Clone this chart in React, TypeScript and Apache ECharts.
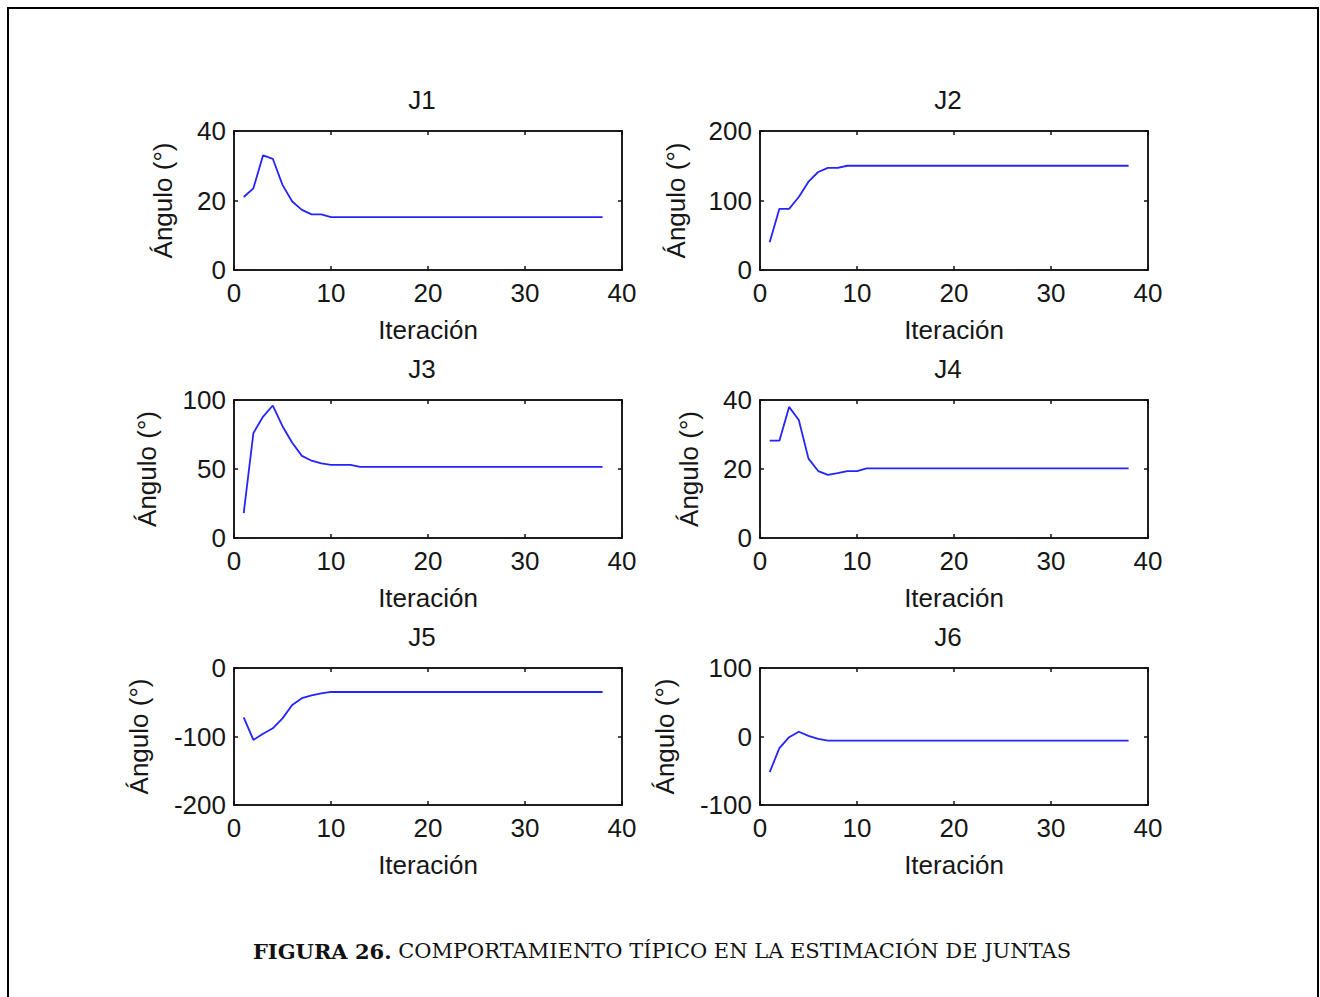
import React, { useEffect, useRef } from "react";
import * as echarts from "echarts";

const iterations = [1,2,3,4,5,6,7,8,9,10,11,12,13,14,15,16,17,18,19,20,21,22,23,24,25,26,27,28,29,30,31,32,33,34,35,36,37,38];

const j1 = [21,23.5,33,32,24.5,19.7,17.3,16,16,15.2,15.2,15.2,15.2,15.2,15.2,15.2,15.2,15.2,15.2,15.2,15.2,15.2,15.2,15.2,15.2,15.2,15.2,15.2,15.2,15.2,15.2,15.2,15.2,15.2,15.2,15.2,15.2,15.2];
const j2 = [40,88,88,105,127,141,147,147,150,150,150,150,150,150,150,150,150,150,150,150,150,150,150,150,150,150,150,150,150,150,150,150,150,150,150,150,150,150];
const j3 = [18,76,88,96,81,69,59.5,56,54,53,53,53,51.5,51.5,51.5,51.5,51.5,51.5,51.5,51.5,51.5,51.5,51.5,51.5,51.5,51.5,51.5,51.5,51.5,51.5,51.5,51.5,51.5,51.5,51.5,51.5,51.5,51.5];
const j4 = [28.2,28.2,38,34.2,23,19.4,18.3,18.8,19.4,19.4,20.2,20.2,20.2,20.2,20.2,20.2,20.2,20.2,20.2,20.2,20.2,20.2,20.2,20.2,20.2,20.2,20.2,20.2,20.2,20.2,20.2,20.2,20.2,20.2,20.2,20.2,20.2,20.2];
const j5 = [-72,-105,-96,-88,-73.5,-54,-44,-40,-37,-35,-35,-35,-35,-35,-35,-35,-35,-35,-35,-35,-35,-35,-35,-35,-35,-35,-35,-35,-35,-35,-35,-35,-35,-35,-35,-35,-35,-35];
const j6 = [-52,-17,-1,7,1,-3.5,-6,-6,-6,-6,-6,-6,-6,-6,-6,-6,-6,-6,-6,-6,-6,-6,-6,-6,-6,-6,-6,-6,-6,-6,-6,-6,-6,-6,-6,-6,-6,-6];

const titles = ["J1", "J2", "J3", "J4", "J5", "J6"];
const seriesValues = [j1, j2, j3, j4, j5, j6];
const yMins = [0, 0, 0, 0, -200, -100];
const yMaxs = [40, 200, 100, 40, 0, 100];
const yIntervals = [20, 100, 50, 20, 100, 100];
const xMin = 0;
const xMax = 40;
const xInterval = 10;
const xLabel = "Iteración";
const yLabel = "Ángulo (°)";
const captionBold = "FIGURA 26.";
const captionText = " COMPORTAMIENTO TÍPICO EN LA ESTIMACIÓN DE JUNTAS";

const FONT = "'Liberation Sans', Arial, sans-serif";
const SERIF = "'DejaVu Serif', 'Liberation Serif', serif";

export default function App() {
  const ref = useRef<HTMLDivElement>(null);
  useEffect(() => {
    if (!ref.current) return;
    const chart = echarts.init(ref.current, undefined, { renderer: "svg" });
    const lefts = [234, 760];
    const tops = [131, 400, 668];
    const heights = [139, 138, 137];
    const width = 388;
    const nameGaps = [58, 71, 74, 58, 82, 82];

    const grids: any[] = [];
    const xAxes: any[] = [];
    const yAxes: any[] = [];
    const series: any[] = [];
    const graphics: any[] = [];

    for (let i = 0; i < 6; i++) {
      const col = i % 2;
      const row = Math.floor(i / 2);
      const left = lefts[col];
      const top = tops[row];
      const height = heights[row];
      grids.push({
        left, top, width, height,
        show: true,
        borderColor: "#111",
        borderWidth: 1.5,
        backgroundColor: "transparent",
        containLabel: false,
      });
      const axisLine = { show: true, onZero: false, lineStyle: { color: "#111", width: 1.5 } };
      const tick = { show: true, inside: true, length: 4, lineStyle: { color: "#111", width: 1.5 } };
      xAxes.push({
        type: "value", gridIndex: i, min: xMin, max: xMax, interval: xInterval,
        position: "bottom",
        axisLine, axisTick: tick,
        axisLabel: { fontSize: 26, color: "#161616", fontFamily: FONT, margin: 10 },
        splitLine: { show: false },
        name: xLabel, nameLocation: "middle", nameGap: 47,
        nameTextStyle: { fontSize: 26, color: "#161616", fontFamily: FONT },
      });
      xAxes.push({
        type: "value", gridIndex: i, min: xMin, max: xMax, interval: xInterval,
        position: "top",
        axisLine, axisTick: tick,
        axisLabel: { show: false },
        splitLine: { show: false },
      });
      yAxes.push({
        type: "value", gridIndex: i, min: yMins[i], max: yMaxs[i], interval: yIntervals[i],
        position: "left",
        axisLine, axisTick: tick,
        axisLabel: { fontSize: 26, color: "#161616", fontFamily: FONT, margin: 8 },
        splitLine: { show: false },
        name: yLabel, nameLocation: "middle", nameGap: nameGaps[i],
        nameTextStyle: { fontSize: 26, color: "#161616", fontFamily: FONT },
      });
      yAxes.push({
        type: "value", gridIndex: i, min: yMins[i], max: yMaxs[i], interval: yIntervals[i],
        position: "right",
        axisLine, axisTick: tick,
        axisLabel: { show: false },
        splitLine: { show: false },
      });
      series.push({
        type: "line",
        xAxisIndex: i * 2,
        yAxisIndex: i * 2,
        data: iterations.map((it, k) => [it, seriesValues[i][k]]),
        showSymbol: false,
        lineStyle: { color: "#2424ff", width: 1.8 },
        itemStyle: { color: "#2424ff" },
      });
      graphics.push({
        type: "text",
        x: left + width / 2 - 6,
        y: top - 31,
        style: {
          text: titles[i], fontSize: 26, fontFamily: FONT, fill: "#161616",
          textAlign: "center", textVerticalAlign: "middle",
        },
      });
    }

    graphics.push({
      type: "polyline",
      shape: { points: [[8, 1000], [8, 8], [1318, 8], [1318, 1000]] },
      style: { stroke: "#000", lineWidth: 2, fill: "none" },
    });
    graphics.push({
      type: "text",
      x: 662,
      y: 951,
      style: {
        text: "{b|" + captionBold + "}{r|" + captionText + "}",
        textAlign: "center",
        textVerticalAlign: "middle",
        rich: {
          b: { fontSize: 21, fontWeight: "bold", fontFamily: SERIF, fill: "#111" },
          r: { fontSize: 21, fontFamily: SERIF, fill: "#111" },
        },
      },
    });

    chart.setOption({
      animation: false,
      backgroundColor: "#fff",
      grid: grids,
      xAxis: xAxes,
      yAxis: yAxes,
      series,
      graphic: graphics,
    });
    return () => chart.dispose();
  }, []);
  return (
    <div
      ref={ref}
      style={{ position: "fixed", left: 0, top: 0, width: 1320, height: 997 }}
    />
  );
}
